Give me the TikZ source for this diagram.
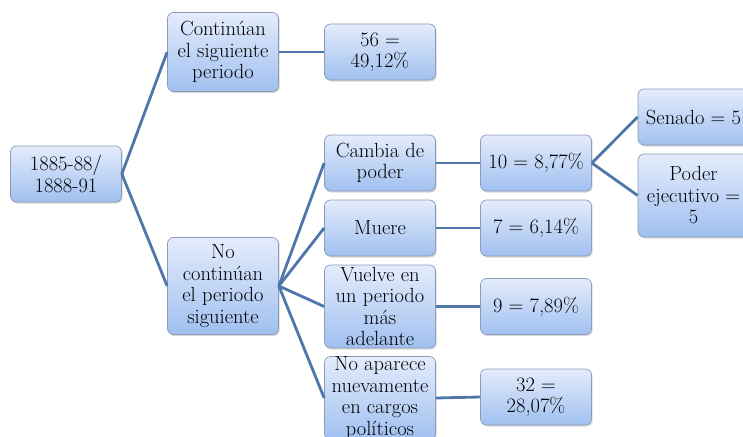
\documentclass[tikz,border=0pt]{standalone}
\usepackage{tikz}
\usetikzlibrary{shadows}
\usepackage{xcolor}
\definecolor{celltop}{RGB}{228,236,252}
\definecolor{cellbottom}{RGB}{160,192,240}
\definecolor{framegray}{RGB}{140,156,184}
\definecolor{linkblue}{RGB}{78,118,170}

\begin{document}
\begin{tikzpicture}[x=1pt, y=-1pt,
  cell/.style={rectangle, rounded corners=6pt, draw=framegray, line width=0.7pt,
    top color=celltop, bottom color=cellbottom, align=center, inner sep=0pt,
    minimum width=111pt, minimum height=56pt,
    font=\rmfamily\fontsize{20.5}{21.5}\selectfont,
    drop shadow={shadow xshift=1.2pt, shadow yshift=-1.5pt, opacity=0.3}},
  link/.style={draw=linkblue, line width=2.8pt}]
  \useasboundingbox (0,0) rectangle (743,436);
  \clip (0,0) rectangle (743,436);
  % Root and first split
  \node[cell] (root) at (66,174) {1885-88/\\1888-91};
  \node[cell, minimum height=79pt] (cont) at (223,52) {Continúan\\el siguiente\\periodo};
  \node[cell, minimum height=97pt] (nocont) at (223,286) {No\\continúan\\el periodo\\siguiente};
  \node[cell] (cont56) at (380,52) {56 =\\49,12\%};
  % Reasons for not continuing
  \node[cell] (cambia) at (380,163) {Cambia de\\poder};
  \node[cell] (muere) at (380,228) {Muere};
  \node[cell, minimum height=83pt] (vuelve) at (380,306.5) {Vuelve en\\un periodo\\más\\adelante};
  \node[cell, minimum height=83pt] (noaparece) at (380,398) {No aparece\\nuevamente\\en cargos\\políticos};
  % Counts
  \node[cell] (cambia10) at (536,163) {10 = 8,77\%};
  \node[cell] (muere7) at (536,228) {7 = 6,14\%};
  \node[cell] (vuelve9) at (536,306.5) {9 = 7,89\%};
  \node[cell] (noaparece32) at (536,397) {32 =\\28,07\%};
  \node[cell] (senado) at (693.5,117) {Senado = 5};
  \node[cell, minimum height=83pt] (ejecutivo) at (693.5,195.5) {Poder\\ejecutivo =\\5};
  % Connectors
  \draw[link] (root.east) -- (cont.west);
  \draw[link] (root.east) -- (nocont.west);
  \draw[link] (cont.east) -- (cont56.west);
  \foreach \n in {cambia, muere, vuelve, noaparece}
    \draw[link] (nocont.east) -- (\n.west);
  \draw[link] (cambia.east) -- (cambia10.west);
  \draw[link] (muere.east) -- (muere7.west);
  \draw[link] (vuelve.east) -- (vuelve9.west);
  \draw[link] (noaparece.east) -- (noaparece32.west);
  \draw[link] (cambia10.east) -- (senado.west);
  \draw[link] (cambia10.east) -- (ejecutivo.west);
\end{tikzpicture}
\end{document}
